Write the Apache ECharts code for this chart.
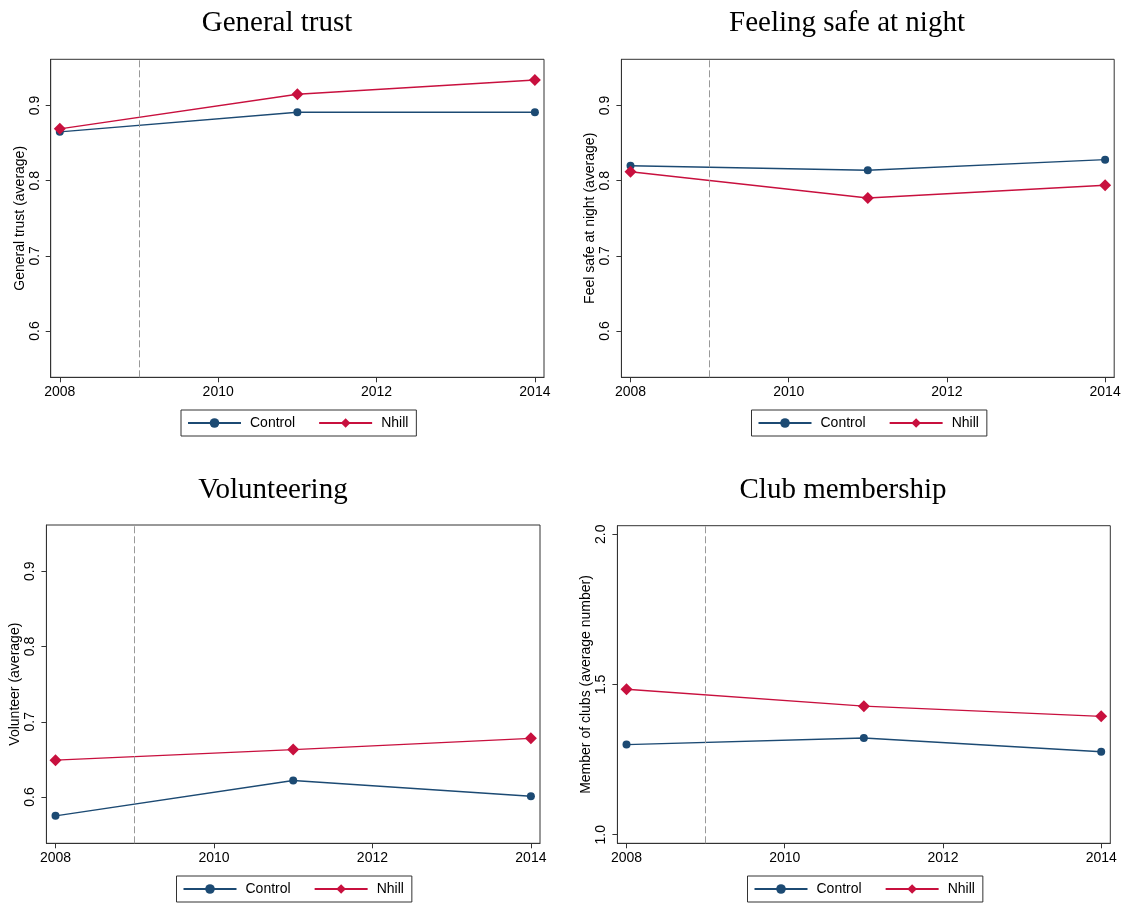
<!DOCTYPE html>
<html>
<head>
<meta charset="utf-8">
<script src="https://cdn.jsdelivr.net/npm/echarts@6/dist/echarts.min.js"></script>
<style>
html,body{margin:0;padding:0;background:#fff;}
#c{width:1126px;height:904px;}
</style>
</head>
<body>
<div id="c"></div>
<script>
// ---- data ----
var years = [2008, 2011, 2014];
var xTicks = [2008, 2010, 2012, 2014];
var treatYear = 2009;
var seriesNames = ['Control', 'Nhill'];

var titles = ['General trust', 'Feeling safe at night', 'Volunteering', 'Club membership'];
var yNames = ['General trust (average)', 'Feel safe at night (average)', 'Volunteer (average)', 'Member of clubs (average number)'];

var trustControl = [0.865, 0.891, 0.891];
var trustNhill   = [0.869, 0.915, 0.934];
var safeControl  = [0.820, 0.814, 0.828];
var safeNhill    = [0.812, 0.777, 0.794];
var volControl   = [0.575, 0.622, 0.601];
var volNhill     = [0.649, 0.663, 0.678];
var clubControl  = [1.300, 1.322, 1.276];
var clubNhill    = [1.484, 1.428, 1.394];

var yTicksShare = [0.6, 0.7, 0.8, 0.9];
var yTicksClub  = [1.0, 1.5, 2.0];

// ---- layout ----
var navy = '#1c4a73';
var red = '#c8103e';
var axisCol = '#333';

var panels = [
  {ctrl: trustControl, nhill: trustNhill, ticks: yTicksShare, ymin: 0.5385, ymax: 0.9615,
   grid: {left: 50.7, top: 59.3, width: 493.3, height: 318}, tx: 277, ty: 23.5, lg: {left: 181, top: 410}},
  {ctrl: safeControl, nhill: safeNhill, ticks: yTicksShare, ymin: 0.5385, ymax: 0.9615,
   grid: {left: 621.4, top: 59.3, width: 492.8, height: 318}, tx: 847, ty: 23.5, lg: {left: 751.5, top: 410}},
  {ctrl: volControl, nhill: volNhill, ticks: yTicksShare, ymin: 0.5385, ymax: 0.9615,
   grid: {left: 46.4, top: 525, width: 493.6, height: 318.3}, tx: 273, ty: 490, lg: {left: 176.5, top: 876}},
  {ctrl: clubControl, nhill: clubNhill, ticks: yTicksClub, ymin: 0.9714, ymax: 2.0286,
   grid: {left: 617.4, top: 525.7, width: 492.9, height: 317.6}, tx: 843, ty: 490, lg: {left: 747.5, top: 876}}
];

function pairs(xs, ys) { return xs.map(function (x, i) { return [x, ys[i]]; }); }

var option = {
  animation: false,
  backgroundColor: '#fff',
  grid: [], xAxis: [], yAxis: [], series: [], legend: [], graphic: []
};

panels.forEach(function (p, i) {
  option.grid.push(Object.assign({show: true, borderColor: axisCol, borderWidth: 1, backgroundColor: '#fff'}, p.grid));
  option.xAxis.push({
    type: 'value', gridIndex: i, min: 2007.885, max: 2014.115,
    splitLine: {show: false},
    axisLine: {show: true, onZero: false, lineStyle: {color: axisCol, width: 1}},
    axisTick: {show: true, length: 5, customValues: xTicks, lineStyle: {color: axisCol}},
    axisLabel: {customValues: xTicks, margin: 8, color: '#000', fontFamily: 'Liberation Sans', fontSize: 14,
      formatter: function (v) { return String(Math.round(v)); }}
  });
  option.yAxis.push({
    type: 'value', gridIndex: i, min: p.ymin, max: p.ymax,
    name: yNames[i], nameLocation: 'middle', nameGap: 24, nameRotate: 90,
    nameTextStyle: {color: '#000', fontFamily: 'Liberation Sans', fontSize: 14},
    splitLine: {show: false},
    axisLine: {show: true, onZero: false, lineStyle: {color: axisCol, width: 1}},
    axisTick: {show: true, length: 5, customValues: p.ticks, lineStyle: {color: axisCol}},
    axisLabel: {customValues: p.ticks, rotate: 90, margin: 9, color: '#000', fontFamily: 'Liberation Sans', fontSize: 14,
      formatter: function (v) { return v.toFixed(1); }}
  });
  option.series.push({
    name: seriesNames[0], type: 'line', xAxisIndex: i, yAxisIndex: i,
    data: pairs(years, p.ctrl), symbol: 'circle', symbolSize: 8,
    itemStyle: {color: navy}, lineStyle: {color: navy, width: 1.4},
    markLine: {silent: true, symbol: ['none', 'none'], label: {show: false},
      lineStyle: {color: '#999', type: [7, 3], width: 1},
      data: [{xAxis: treatYear}]}
  });
  option.series.push({
    name: seriesNames[1], type: 'line', xAxisIndex: i, yAxisIndex: i,
    data: pairs(years, p.nhill), symbol: 'diamond', symbolSize: 12,
    itemStyle: {color: red}, lineStyle: {color: red, width: 1.4}
  });
  option.legend.push({
    data: seriesNames.slice(), left: p.lg.left, top: p.lg.top, orient: 'horizontal',
    itemWidth: 53, itemHeight: 12, itemGap: 23,
    padding: [6, 8, 6, 6],
    borderColor: axisCol, borderWidth: 1, borderRadius: 0,
    textStyle: {color: '#000', fontFamily: 'Liberation Sans', fontSize: 14, padding: [0, 0, 0, 4]},
    selectedMode: false
  });
  option.graphic.push({
    type: 'text', x: p.tx, y: p.ty, silent: true,
    style: {text: titles[i], fill: '#000', font: '29px "Liberation Serif"', align: 'center', verticalAlign: 'middle'}
  });
});

var chart = echarts.init(document.getElementById('c'), null, {renderer: 'canvas'});
chart.setOption(option);
</script>
</body>
</html>
